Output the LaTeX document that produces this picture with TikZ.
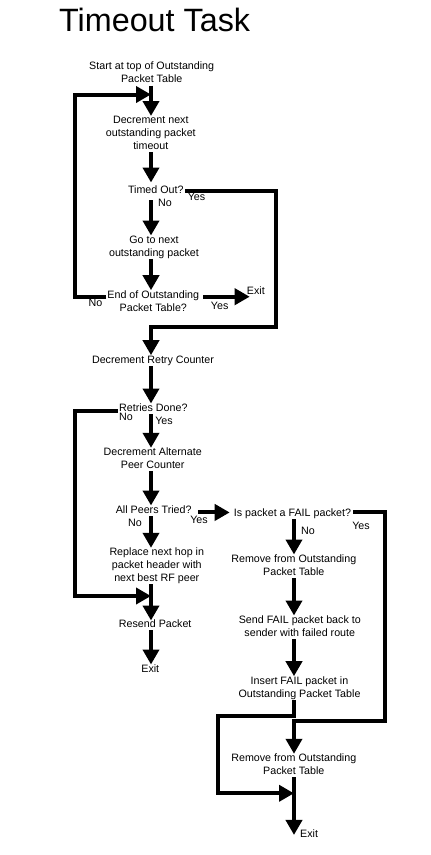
\documentclass[tikz,border=0pt]{standalone}
\usepackage{fontspec}
\setmainfont{Liberation Sans}
\usetikzlibrary{arrows.meta,calc}
\begin{document}
\begin{tikzpicture}[x=1pt,y=-1pt,
  txt/.style={anchor=north,align=center,inner xsep=1pt,inner ysep=0pt,
    font=\fontsize{10.7}{13}\selectfont,
    execute at begin node={\rule{0pt}{8pt}},
    execute at end node={\rule[-2.5pt]{0pt}{2.5pt}}},
  lbl/.style={inner sep=0pt,text height=8pt,text depth=2.5pt,font=\fontsize{10.7}{13}\selectfont},
  arr/.style={line width=4pt,-{Triangle[width=16pt,length=15pt]}},
  ln/.style={line width=4pt}]
\useasboundingbox[fill=white] (0,0) rectangle (431,855);
\coordinate (colL) at (151,0);
\coordinate (colR) at (294,0);
\node[anchor=base west,inner sep=0pt,font=\fontsize{32.3}{32}\selectfont] (title) at (59,31) {Timeout Task};
% nodes
\node[txt] (start) at (151.7,62) {Start at top of Outstanding\\Packet Table};
\node[txt] (dec1) at (150.8,116) {Decrement next\\outstanding packet\\timeout};
\node[txt] (tmo) at (155.8,185.5) {Timed Out?};
\node[txt] (gonext) at (154,235.5) {Go to next\\outstanding packet};
\node[txt] (endo) at (153.3,290.2) {End of Outstanding\\Packet Table?};
\node[txt] (decr) at (153,355.2) {Decrement Retry Counter};
\node[txt] (rdone) at (153.3,403.5) {Retries Done?};
\node[txt] (decalt) at (152.7,447.8) {Decrement Alternate\\Peer Counter};
\node[txt] (allp) at (153.7,505.5) {All Peers Tried?};
\node[txt] (isfail) at (292.5,508.5) {Is packet a FAIL packet?};
\node[txt] (repl) at (156.8,547.8) {Replace next hop in\\packet header with\\next best RF peer};
\node[txt] (rem1) at (293.8,554.5) {Remove from Outstanding\\Packet Table};
\node[txt] (resend) at (155.2,619.5) {Resend Packet};
\node[txt] (send) at (299.8,615.5) {Send FAIL packet back to\\sender with failed route};
\node[txt] (exitL) at (150.3,664.5) {Exit};
\node[txt] (insert) at (299.5,676.2) {Insert FAIL packet in\\Outstanding Packet Table};
\node[txt] (rem2) at (293.8,753.8) {Remove from Outstanding\\Packet Table};
\node[txt,anchor=north west,inner xsep=0pt] (exitB) at (300,829.5) {Exit};
\node[txt,anchor=north west,inner xsep=0pt] (exitR) at (246.7,286) {Exit};
% labels
\node[lbl] (yes1) at (196.5,198) {Yes};
\node[lbl] (no1) at (165,203.5) {No};
\node[lbl] (no2) at (95.5,304) {No};
\node[lbl] (yes2) at (219.7,306.5) {Yes};
\node[lbl] (no3) at (126,418) {No};
\node[lbl] (yes3) at (164,421.5) {Yes};
\node[lbl] (no4) at (135,523.5) {No};
\node[lbl] (yes4) at (199,520.5) {Yes};
\node[lbl] (yes5) at (361,526.3) {Yes};
\node[lbl] (no5) at (308,532) {No};
% corner coordinates
\coordinate (lc1) at (75,94.5);
\coordinate (rc1) at (276.3,326.7);
\coordinate (lc2) at (75,596);
\coordinate (rc2) at (384.7,721.3);
\coordinate (mc1) at (217.8,716);
\coordinate (mc2) at (294,793.3);
% connectors
\draw[arr] (start.south -| colL) -- (dec1.north -| colL);
\draw[arr] ([yshift=-6.5pt]endo.north west) -| (lc1) -- (lc1 -| colL);
\draw[arr] (dec1.south -| colL) -- ([yshift=3pt]tmo.north -| colL);
\draw[arr] (tmo.east) -| (rc1) -| (decr.north -| colL);
\draw[arr] ([yshift=-4pt]tmo.south -| colL) -- (gonext.north -| colL);
\draw[arr] (gonext.south -| colL) -- (endo.north -| colL);
\draw[arr] ([shift={(3pt,-6.5pt)}]endo.north east) -- ([shift={(3pt,-6.5pt)}]endo.north east -| exitR.west);
\draw[arr] (decr.south -| colL) -- (rdone.north -| colL);
\draw[arr] ([yshift=-2pt]rdone.west) -| (lc2) -- (lc2 -| colL);
\draw[arr] (rdone.south -| colL) -- (decalt.north -| colL);
\draw[arr] (decalt.south -| colL) -- (allp.north -| colL);
\draw[arr] (allp.south -| colL) -- (repl.north -| colL);
\draw[arr] ([shift={(5pt,-1.5pt)}]allp.east) -- ([shift={(-3pt,-1.5pt)}]isfail.west |- allp.east);
\draw[arr] ([xshift=1pt,yshift=1.5pt]isfail.east) -| (rc2) -| (rem2.north -| colR);
\draw[arr] (isfail.south -| colR) -- (rem1.north -| colR);
\draw[arr] (repl.south -| colL) -- ([yshift=-1pt]resend.north -| colL);
\draw[arr] (resend.south -| colL) -- (exitL.north -| colL);
\draw[arr] (rem1.south -| colR) -- (send.north -| colR);
\draw[arr] (send.south -| colR) -- (insert.north -| colR);
\draw[arr] (insert.south -| colR) |- (mc1) |- (mc2);
\draw[arr] (rem2.south -| colR) -- (exitB.west -| colR);
\end{tikzpicture}
\end{document}
